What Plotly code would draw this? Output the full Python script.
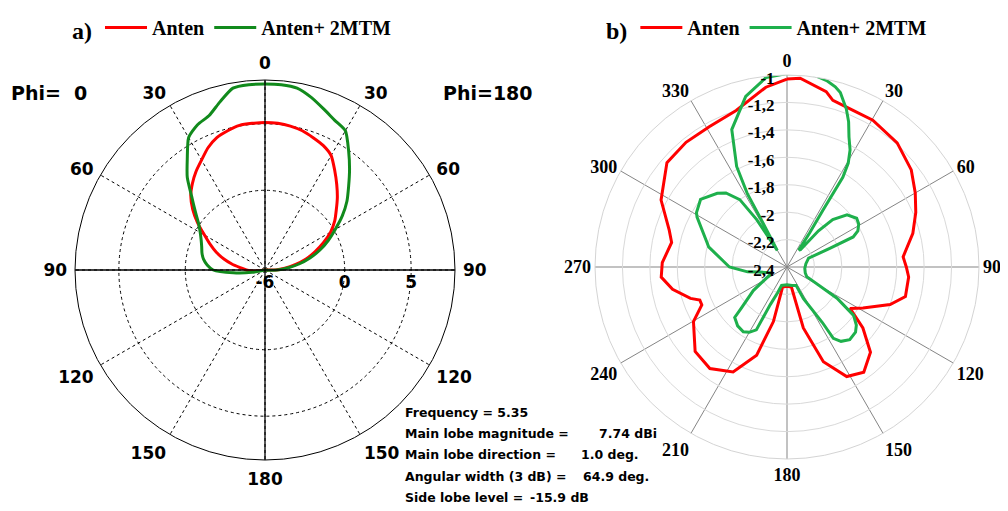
import plotly.graph_objects as go

W, H = 1008, 511

# ---------------- Plot a) : gain (dBi) vs theta (deg, clockwise from top) ----------------
a_red_theta = [0, 5, 10, 15, 20, 25, 30, 35, 40, 45, 50, 55, 60, 65, 70, 75, 80, 85, 90, 95, 180,
               260, 265, 270, 275, 280, 285, 290, 295, 300, 305, 310, 315, 320, 325, 330, 335, 340, 345, 350, 355, 360]
a_red_gain = [5.1, 5.08, 5.0, 4.85, 4.6, 4.35, 3.95, 3.15, 2.4, 1.7, 1.0, 0.4, -0.3, -1.15, -2.0, -2.8, -3.7, -4.5, -5.2, -6.0, -6.0,
              -6.0, -5.1, -4.6, -4.2, -3.5, -2.8, -2.1, -1.45, -0.74, 0.2, 1.1, 1.9, 2.5, 3.05, 3.55, 4.15, 4.6, 4.85, 5.05, 5.08, 5.1]

a_grn_theta = [0, 5, 10, 15, 20, 25, 30, 35, 40, 45, 50, 55, 60, 65, 70, 75, 80, 85, 90, 95, 100, 180,
               255, 260, 265, 270, 275, 280, 285, 290, 295, 300, 305, 310, 315, 320, 325, 330, 335, 340, 345, 350, 355, 360]
a_grn_gain = [8.0, 8.0, 7.9, 7.45, 6.9, 6.43, 6.1, 4.97, 3.9, 2.9, 2.05, 1.1, 0.1, -0.75, -1.6, -2.5, -3.4, -4.3, -5.1, -5.7, -6.0, -6.0,
              -6.0, -5.0, -3.6, -2.1, -1.63, -1.3, -1.09, -0.93, -0.7, -0.37, 0.1, 0.85, 1.8, 3.1, 4.2, 5.5, 6.05, 6.35, 7.1, 7.9, 8.0, 8.0]

a_rmin, a_rmax = -6, 8.3
a_rtick = [-6, 0, 5]
a_ttick = [0, 30, 60, 90, 120, 150, 180, 210, 240, 270, 300, 330]
a_tlabel = ["0", "30", "60", "90", "120", "150", "180", "150", "120", "90", "60", "30"]

# ---------------- Plot b) ----------------
b_red_theta = [0, 4, 12.6, 15.4, 22.5, 30.3, 41.6, 52, 60, 67, 75, 85, 90, 94.7, 104, 110, 118.4, 123.3,
               128.8, 135.6, 143.9, 151.4, 159, 165, 167.6, 180, 192.4, 194, 199, 207.2, 217.2, 227.4,
               239.7, 246, 249.2, 252, 259, 265.4, 272, 282, 287.4, 298, 311, 321, 331, 342, 353.3, 360]
b_red_gain = [-1.03, -1.02, -1.09, -1.14, -1.16, -1.16, -1.19, -1.25, -1.32, -1.38, -1.45, -1.55, -1.53, -1.51,
              -1.51, -1.60, -1.77, -1.85, -1.69, -1.53, -1.45, -1.49, -1.66, -1.94, -2.25, -2.26, -2.25, -1.99,
              -1.72, -1.54, -1.47, -1.49, -1.61, -1.72, -1.72, -1.66, -1.55, -1.48, -1.49, -1.54, -1.50, -1.36,
              -1.24, -1.23, -1.23, -1.20, -1.08, -1.03]

b_grn_theta = [0, 7, 12, 15, 17, 20.6, 23, 25.5, 28.3, 30.5, 31.9, 32.3, 33.5, 35, 38, 41, 44, 49, 55, 59, 63,
               65.6, 66.5, 67.8, 80, 94, 108, 116, 122, 126, 130, 133.6, 139.2, 144, 147, 147.5, 152.5, 153.5,
               165, 180, 196.4, 200, 204, 206, 210, 214, 220, 226, 228, 235, 245, 251, 260, 263, 270, 284.4,
               287, 299, 301, 308, 316.6, 320.5, 325, 327.4, 329.5, 331.4, 331.6, 333.4, 338.1, 346.4, 353.7, 360]
b_grn_gain = [-0.99, -0.98, -1.01, -1.04, -1.07, -1.17, -1.25, -1.35, -1.43, -1.52, -1.63, -1.91, -2.10, -2.25,
              -2.24, -2.05, -1.92, -1.82, -1.78, -1.79, -1.82, -1.87, -2.06, -2.23, -2.26, -2.27, -2.26, -2.24,
              -1.97, -1.80, -1.74, -1.71, -1.70, -1.73, -1.78, -1.92, -2.14, -2.25, -2.26, -2.27, -2.26, -2.20,
              -2.10, -1.89, -1.85, -1.83, -1.84, -1.87, -1.95, -2.10, -2.26, -2.27, -2.19, -2.11, -1.98, -1.81,
              -1.79, -1.65, -1.63, -1.60, -1.66, -1.70, -1.80, -1.99, -2.26, -2.03, -1.79, -1.58, -1.32, -1.12,
              -1.01, -0.99]

b_rmin, b_rmax = -2.4, -1.0
b_rtick = [-2.4, -2.2, -2.0, -1.8, -1.6, -1.4, -1.2, -1.0]
b_rlabel = ["-2,4", "-2,2", "-2", "-1,8", "-1,6", "-1,4", "-1,2", "-1"]
b_ttick = [0, 30, 60, 90, 120, 150, 180, 210, 240, 270, 300, 330]
b_tlabel = ["0", "30", "60", "90", "120", "150", "180", "210", "240", "270", "300", "330"]

series_names = ["Anten", "Anten+ 2MTM"]
info_labels = ["Frequency = 5.35", "Main lobe magnitude =", "Main lobe direction =",
               "Angular width (3 dB) =", "Side lobe level ="]
info_values = ["", "7.74 dBi", "1.0 deg.", "64.9 deg.", "-15.9 dB"]

RED = "#ff0000"
GRN_A = "#118a1c"
GRN_B = "#1eb04c"

SANS = "DejaVu Sans"
SERIF = "Liberation Serif"

OFF = 8  # page body margin in the browser


def px(x):
    return (x - OFF) / W


def py(y):
    return 1 - (y - OFF) / H


fig = go.Figure()

# plot a
fig.add_trace(go.Scatterpolar(r=a_red_gain, theta=a_red_theta, mode="lines", name=series_names[0],
                              line=dict(color=RED, width=3, shape="spline", smoothing=0.6),
                              subplot="polar", legend="legend"))
fig.add_trace(go.Scatterpolar(r=a_grn_gain, theta=a_grn_theta, mode="lines", name=series_names[1],
                              line=dict(color=GRN_A, width=3, shape="spline", smoothing=0.6),
                              subplot="polar", legend="legend"))
# solid cross axes of plot a
fig.add_trace(go.Scatterpolar(r=[a_rmax, a_rmin, a_rmax], theta=[0, 0, 180], mode="lines",
                              line=dict(color="black", width=1.3), subplot="polar", showlegend=False,
                              hoverinfo="skip"))
fig.add_trace(go.Scatterpolar(r=[a_rmax, a_rmin, a_rmax], theta=[90, 90, 270], mode="lines",
                              line=dict(color="black", width=1.3), subplot="polar", showlegend=False,
                              hoverinfo="skip"))

# plot b
fig.add_trace(go.Scatterpolar(r=b_red_gain, theta=b_red_theta, mode="lines", name=series_names[0],
                              line=dict(color=RED, width=3), subplot="polar2", legend="legend2"))
fig.add_trace(go.Scatterpolar(r=b_grn_gain, theta=b_grn_theta, mode="lines", name=series_names[1],
                              line=dict(color=GRN_B, width=3), subplot="polar2", legend="legend2"))

fig.update_layout(
    width=W, height=H,
    margin=dict(l=0, r=0, t=0, b=0),
    paper_bgcolor="white",
    polar=dict(
        domain=dict(x=[px(75), px(455)], y=[py(460), py(80)]),
        bgcolor="white",
        angularaxis=dict(direction="clockwise", rotation=90, tickmode="array", tickvals=a_ttick,
                         ticktext=a_tlabel, showline=True, linecolor="black", linewidth=1,
                         showgrid=True, gridcolor="black", gridwidth=1, griddash="3px,3px",
                         ticks="outside", ticklen=4, tickcolor="rgba(0,0,0,0)",
                         tickfont=dict(family=SANS, size=17, color="black", weight="bold")),
        radialaxis=dict(range=[a_rmin, a_rmax], tickmode="array", tickvals=a_rtick,
                        ticktext=[str(v) for v in a_rtick],
                        angle=0, side="clockwise", showline=False, showgrid=True, gridcolor="black",
                        gridwidth=1, griddash="3px,3px", ticks="",
                        tickfont=dict(family=SANS, size=17, color="black", weight="bold")),
    ),
    polar2=dict(
        domain=dict(x=[px(595), px(979)], y=[py(459), py(75)]),
        bgcolor="white",
        angularaxis=dict(direction="clockwise", rotation=90, tickmode="array", tickvals=b_ttick,
                         ticktext=b_tlabel, showline=True, linecolor="#d4d4d4", linewidth=1,
                         showgrid=True, gridcolor="#858585", gridwidth=1, ticks="",
                         tickfont=dict(family=SERIF, size=18, color="black", weight="bold")),
        radialaxis=dict(range=[b_rmin, b_rmax], tickmode="array", tickvals=b_rtick, ticktext=b_rlabel,
                        angle=90, side="counterclockwise", showline=False, showgrid=True,
                        gridcolor="#d9d9d9", gridwidth=1, ticks="",
                        tickfont=dict(family=SERIF, size=17, color="black", weight="bold")),
    ),
    legend=dict(x=px(70), y=1, xanchor="left", yanchor="top", orientation="h",
                bgcolor="rgba(0,0,0,0)", itemwidth=42,
                title=dict(text="a)", side="left", font=dict(family=SERIF, size=24, color="black", weight="bold")),
                font=dict(family=SERIF, size=20, color="black", weight="bold")),
    legend2=dict(x=px(604), y=1, xanchor="left", yanchor="top", orientation="h",
                 bgcolor="rgba(0,0,0,0)", itemwidth=42,
                 title=dict(text="b)", side="left", font=dict(family=SERIF, size=24, color="black", weight="bold")),
                 font=dict(family=SERIF, size=20, color="black", weight="bold")),
)

annotations = [
    dict(text="Phi=\u00a0\u00a00", x=px(9), y=py(93)),
    dict(text="Phi=180", x=px(441), y=py(93)),
]
for a in annotations:
    a.update(xref="paper", yref="paper", xanchor="left", yanchor="middle", showarrow=False,
             font=dict(family=SANS, size=19, color="black", weight="bold"))

info_y = [412, 433, 454, 476, 497]
value_x = [0, 598, 580, 582, 529]
for lab, val, yy, vx in zip(info_labels, info_values, info_y, value_x):
    annotations.append(dict(text=lab, x=px(403), y=py(yy), xref="paper", yref="paper", xanchor="left",
                            yanchor="middle", showarrow=False,
                            font=dict(family=SANS, size=12.5, color="black", weight="bold")))
    if val:
        annotations.append(dict(text=val, x=px(vx - 1), y=py(yy), xref="paper", yref="paper", xanchor="left",
                                yanchor="middle", showarrow=False,
                                font=dict(family=SANS, size=12.5, color="black", weight="bold")))

fig.update_layout(annotations=annotations)

fig.write_html("out.html")
